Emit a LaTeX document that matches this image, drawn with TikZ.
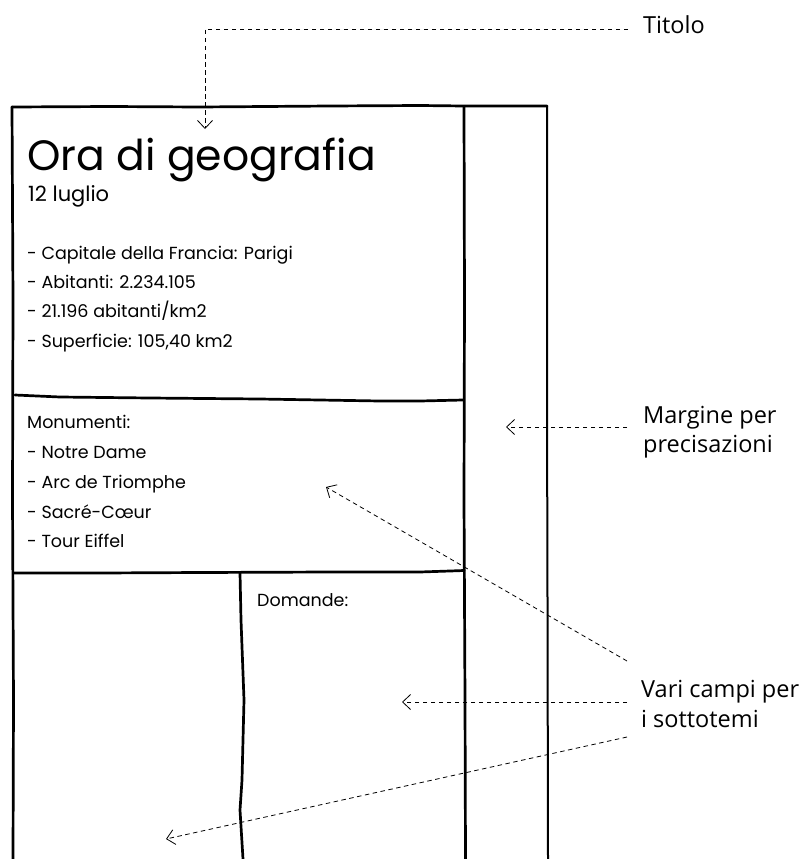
\documentclass[tikz,border=0pt]{standalone}
\usepackage{fontspec}
\setmainfont{Open Sans}
\newfontfamily\handfont{Poppins}
\usetikzlibrary{arrows.meta}
\begin{document}
\begin{tikzpicture}[x=1pt,y=-1pt,
  pen/.style={line width=2.7pt, line cap=round, line join=round},
  thinpen/.style={line width=2pt, line cap=round, line join=round},
  callout/.style={line width=0.8pt, dash pattern=on 4.5pt off 3.5pt,
    -{Straight Barb[length=8pt,width=15pt,line width=0.8pt]}},
  lbl/.style={anchor=base west, inner sep=0pt, font=\fontsize{23.5}{28}\selectfont},
  hw/.style={anchor=base west, inner sep=0pt, font=\handfont\fontsize{17.5}{21}\selectfont},
  hwtitle/.style={hw, font=\handfont\fontsize{42.5}{48}\selectfont},
  hwdate/.style={hw, font=\handfont\fontsize{21}{25}\selectfont},
]
\useasboundingbox (0,0) rectangle (811,859);

% sheet outline (hand drawn)
\draw[pen] (13,859) -- (13.5,700) -- (12.5,500) -- (13,300) -- (12,107);
\draw[pen] (12,107) -- (110,106.5) -- (200,107) -- (330,106) -- (420,105.5) -- (464,106) -- (547,106);
\draw[pen] (464,107) -- (464.5,300) -- (464,500) -- (465,700) -- (465.5,859);
\draw[thinpen] (547,106) -- (547,400) -- (547.5,600) -- (548,859);
% separators
\draw[pen] (15,395) -- (60,397) -- (150,398) -- (260,399) -- (380,401) -- (420,401) -- (463,400);
\draw[pen] (14,573) -- (100,573) -- (200,572.5) -- (330,572) -- (420,572) -- (450,571) -- (464,570.5);
\draw[pen] (240,573) -- (241,620) -- (244,700) -- (242,780) -- (240,810) -- (243,859);

% handwritten content
\node[hwtitle] (title) at (27,170) {Ora di geografia};
\node[hwdate] (date) at (28,201) {12 luglio};
\node[hw] (f1) at (27,259) {- Capitale della Francia: Parigi};
\node[hw] (f2) at (27,288) {- Abitanti: 2.234.105};
\node[hw] (f3) at (27,317) {- 21.196 abitanti/km2};
\node[hw] (f4) at (27,347) {- Superficie: 105,40 km2};
\node[hw] (m0) at (27,428) {Monumenti:};
\node[hw] (m1) at (27,458) {- Notre Dame};
\node[hw] (m2) at (27,488) {- Arc de Triomphe};
\node[hw] (m3) at (27,518) {- Sacré-Cœur};
\node[hw] (m4) at (27,547) {- Tour Eiffel};
\node[hw] (dom) at (257,606) {Domande:};

% annotation labels
\node[lbl] (titolo) at (643,34) {Titolo};
\node[lbl] (marg1) at (643,423) {Margine per};
\node[lbl] (marg2) at (643,452) {precisazioni};
\node[lbl] (vari1) at (641,697) {Vari campi per};
\node[lbl] (vari2) at (641,727) {i sottotemi};

% callout endpoints
\coordinate (tStart) at (628,29);
\coordinate (tEnd) at (205,129);
\coordinate (mStart) at (627,427);
\coordinate (mEnd) at (506,427);
\coordinate (vStartA) at (627,661);
\coordinate (vEndA) at (326,487);
\coordinate (vStartB) at (627,702);
\coordinate (vEndB) at (402,702);
\coordinate (vStartC) at (627,737);
\coordinate (vEndC) at (166,839);

\draw[callout] (tStart) -| (tEnd);
\draw[callout] (mStart) -- (mEnd);
\draw[callout] (vStartA) -- (vEndA);
\draw[callout] (vStartB) -- (vEndB);
\draw[callout] (vStartC) -- (vEndC);
\end{tikzpicture}
\end{document}
